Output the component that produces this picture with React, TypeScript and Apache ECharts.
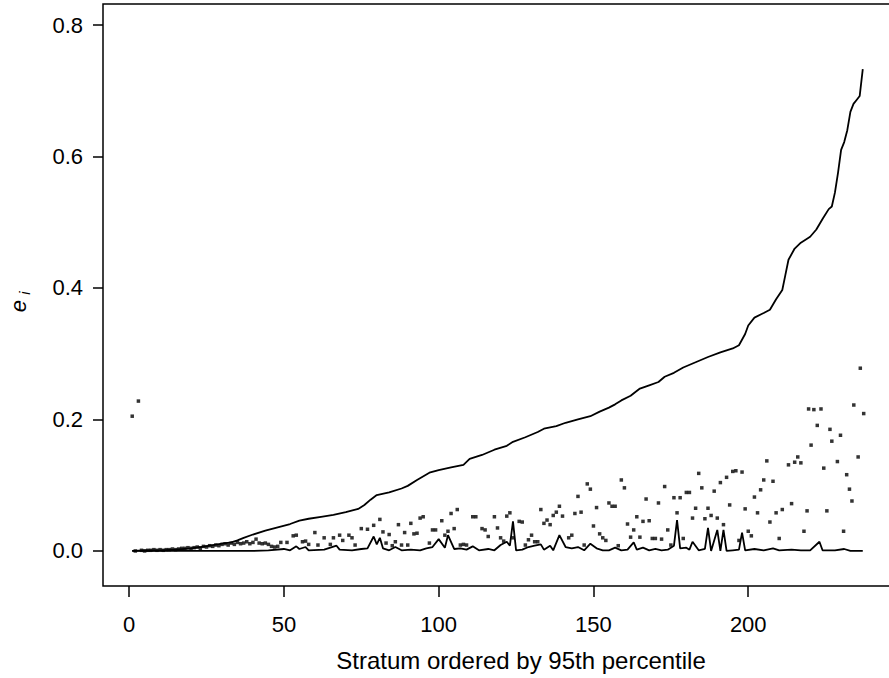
import React, { useEffect, useRef } from "react";
import * as echarts from "echarts";

// Upper curve: [stratum, e_i]
const upperCurve: [number, number][] = [
  [1, 0], [5, 0.001], [10, 0.001], [15, 0.002], [20, 0.004], [23, 0.006], [27, 0.009], [30, 0.011],
  [33, 0.013], [35, 0.016], [37, 0.02], [40, 0.025], [44, 0.031], [48, 0.036], [52, 0.041], [55, 0.046],
  [58, 0.049], [62, 0.052], [66, 0.055], [70, 0.059], [74, 0.064], [76, 0.07], [78, 0.078], [80, 0.085],
  [84, 0.089], [88, 0.095], [90, 0.099], [93, 0.108], [97, 0.119], [100, 0.123], [104, 0.127], [108, 0.131],
  [110, 0.14], [114, 0.146], [118, 0.154], [122, 0.16], [124, 0.166], [128, 0.173], [132, 0.181], [134, 0.186],
  [138, 0.19], [141, 0.195], [145, 0.2], [149, 0.205], [152, 0.212], [155, 0.218], [157, 0.223], [159, 0.229],
  [162, 0.236], [165, 0.247], [168, 0.252], [171, 0.257], [173, 0.265], [176, 0.271], [179, 0.279], [183, 0.287],
  [187, 0.295], [191, 0.302], [195, 0.308], [197, 0.313], [199, 0.33], [200, 0.343], [202, 0.355], [205, 0.362],
  [207, 0.367], [209, 0.383], [211, 0.397], [212, 0.42], [213, 0.443], [215, 0.46], [217, 0.469], [220, 0.478],
  [222, 0.489], [224, 0.505], [226, 0.52], [227, 0.524], [228, 0.545], [229, 0.575], [230, 0.61], [231, 0.622],
  [232, 0.64], [233, 0.668], [234, 0.68], [235, 0.686], [236, 0.692], [237, 0.733],
];

// Lower curve: [stratum, e_i]
const lowerCurve: [number, number][] = [
  [1, 0], [40, 0], [45, 0.001], [50, 0.003], [52, 0.001], [54, 0.007], [55, 0.003], [57, 0.006], [58, 0.001],
  [63, 0.002], [67, 0.008], [68, 0.002], [72, 0.001], [75, 0.003], [77, 0.004], [79, 0.022], [80, 0.01],
  [81, 0.02], [82, 0.004], [84, 0.001], [86, 0.006], [88, 0.001], [91, 0.002], [94, 0.001], [96, 0.004],
  [98, 0.006], [100, 0.018], [102, 0.005], [103, 0.024], [105, 0.003], [107, 0.004], [109, 0.002], [111, 0.007],
  [113, 0.001], [116, 0.003], [118, 0.001], [120, 0.009], [122, 0.014], [123, 0.008], [124, 0.045], [125, 0.001],
  [127, 0.002], [129, 0.006], [131, 0.008], [133, 0.01], [134, 0.002], [136, 0.008], [137, 0.001], [139, 0.024],
  [141, 0.006], [143, 0.004], [145, 0.006], [147, 0.001], [149, 0.011], [151, 0.004], [153, 0.001], [155, 0.001],
  [157, 0.005], [159, 0.001], [161, 0.002], [163, 0.013], [164, 0.002], [166, 0.005], [168, 0.001], [170, 0.003],
  [172, 0.001], [174, 0.002], [176, 0.008], [177, 0.047], [178, 0.004], [180, 0.005], [181, 0.002], [182, 0.014],
  [184, 0.001], [186, 0.003], [187, 0.035], [188, 0], [190, 0.032], [191, 0], [192, 0.032], [193, 0],
  [195, 0.001], [197, 0.002], [198, 0.028], [199, 0.001], [202, 0.003], [205, 0.001], [208, 0.004], [210, 0.001],
  [214, 0.002], [217, 0.001], [220, 0.001], [223, 0.014], [224, 0.001], [228, 0.001], [231, 0.003], [233, 0],
  [237, 0],
];

// Individual stratum points: [stratum, e_i]
const points: [number, number][] = [
  [1, 0.205], [3, 0.228], [2, 0], [4, 0.001], [5, 0], [6, 0.001], [7, 0.001], [8, 0.002], [9, 0.001],
  [10, 0.002], [11, 0.001], [12, 0.002], [13, 0.002], [14, 0.003], [15, 0.002], [16, 0.003], [17, 0.004],
  [18, 0.004], [19, 0.005], [20, 0.004], [21, 0.005], [22, 0.006], [23, 0.004], [24, 0.007], [25, 0.006],
  [26, 0.008], [27, 0.007], [28, 0.009], [29, 0.008], [30, 0.01], [31, 0.011], [32, 0.009], [33, 0.012],
  [34, 0.01], [35, 0.013], [36, 0.011], [37, 0.012], [38, 0.014], [39, 0.011], [40, 0.013], [41, 0.018],
  [42, 0.012], [43, 0.011], [44, 0.012], [45, 0.01], [46, 0.007], [47, 0.006],
  [48, 0.007], [49, 0.013], [51, 0.013], [53, 0.023], [54, 0.024], [56, 0.014], [57, 0.015], [58, 0.01],
  [60, 0.028], [61, 0.009], [63, 0.02], [65, 0.01], [66, 0.02], [68, 0.024], [69, 0.016], [71, 0.024],
  [72, 0.02], [73, 0.009], [75, 0.034], [77, 0.033], [79, 0.039], [81, 0.048], [82, 0.029], [83, 0.012],
  [84, 0.025], [85, 0.008], [86, 0.014], [87, 0.04], [88, 0.009], [89, 0.028], [90, 0.009], [91, 0.042],
  [92, 0.026], [93, 0.027], [94, 0.05], [95, 0.052], [97, 0.012], [98, 0.032], [99, 0.032], [101, 0.046],
  [102, 0.024], [103, 0.03], [104, 0.057], [105, 0.034], [106, 0.063], [107, 0.009], [108, 0.01], [109, 0.009],
  [111, 0.052], [112, 0.052], [114, 0.034], [115, 0.032], [116, 0.022], [118, 0.052], [119, 0.035], [120, 0.02],
  [121, 0.015], [122, 0.053], [123, 0.058], [124, 0.02], [126, 0.045], [127, 0.044], [128, 0.009], [129, 0.017],
  [130, 0.024], [131, 0.014], [132, 0.014], [133, 0.063], [134, 0.042], [135, 0.047], [136, 0.04], [137, 0.054],
  [138, 0.059], [139, 0.068], [140, 0.053], [142, 0.02], [143, 0.024], [144, 0.057], [145, 0.083], [146, 0.059],
  [147, 0.009], [148, 0.102], [149, 0.094], [150, 0.038], [151, 0.066], [152, 0.026], [153, 0.02], [154, 0.016],
  [155, 0.073], [156, 0.068], [157, 0.068], [158, 0.008], [159, 0.108], [160, 0.096], [161, 0.041], [162, 0.021],
  [163, 0.032], [164, 0.052], [165, 0.021], [166, 0.045], [167, 0.079], [168, 0.046], [169, 0.019], [170, 0.019],
  [171, 0.073], [172, 0.018], [173, 0.098], [174, 0.032], [175, 0.009], [176, 0.081], [177, 0.058], [178, 0.081],
  [179, 0.019], [180, 0.089], [181, 0.089], [182, 0.05], [183, 0.065], [184, 0.118], [185, 0.096], [186, 0.049],
  [187, 0.065], [188, 0.054], [189, 0.091], [190, 0.05], [191, 0.104], [192, 0.04], [193, 0.112], [194, 0.07],
  [195, 0.121], [196, 0.122], [197, 0.016], [198, 0.12], [199, 0.064], [200, 0.03], [201, 0.023], [202, 0.082],
  [203, 0.058], [204, 0.093], [205, 0.108], [206, 0.137], [207, 0.044], [208, 0.106], [209, 0.058], [210, 0.019],
  [211, 0.063], [213, 0.131], [214, 0.072], [215, 0.135], [216, 0.143], [217, 0.134], [218, 0.03], [219, 0.061],
  [219.5, 0.216], [220.3, 0.161], [221.2, 0.215], [222.3, 0.191], [223.5, 0.216], [224.4, 0.126], [225.4, 0.061],
  [226.4, 0.185], [227, 0.167], [228.8, 0.136], [229.8, 0.176], [230.8, 0.03], [231.8, 0.116], [232.7, 0.094],
  [233.5, 0.076], [234.1, 0.222], [235.5, 0.143], [236.2, 0.278], [237.3, 0.209],
];

const xTicks = [0, 50, 100, 150, 200];
const yTicks = [0, 0.2, 0.4, 0.6, 0.8];

const FONT = '"Liberation Sans", Arial, Helvetica, sans-serif';
const INK = "#000000";

export default function App() {
  const ref = useRef<HTMLDivElement>(null);
  useEffect(() => {
    if (!ref.current) return;
    const chart = echarts.init(ref.current, undefined, { renderer: "svg" });
    chart.setOption({
      animation: false,
      backgroundColor: "#ffffff",
      grid: {
        left: 103,
        top: 4,
        right: 8,
        bottom: 92,
        show: true,
        borderColor: INK,
        borderWidth: 1.5,
        backgroundColor: "transparent",
      },
      xAxis: {
        type: "value",
        min: -8.44,
        max: 246.44,
        axisLine: { show: false, onZero: false },
        splitLine: { show: false },
        axisTick: {
          show: true,
          inside: false,
          length: 11,
          lineStyle: { color: INK, width: 1.5 },
          customValues: xTicks,
        },
        axisLabel: {
          show: true,
          margin: 27,
          fontSize: 22,
          fontFamily: FONT,
          color: INK,
          customValues: xTicks,
          formatter: (v: number) => String(v),
        },
      },
      yAxis: {
        type: "value",
        min: -0.0533,
        max: 0.832,
        axisLine: { show: false, onZero: false },
        splitLine: { show: false },
        axisTick: {
          show: true,
          inside: false,
          length: 10,
          lineStyle: { color: INK, width: 1.5 },
          customValues: yTicks,
        },
        axisLabel: {
          show: true,
          margin: 20,
          fontSize: 22,
          fontFamily: FONT,
          color: INK,
          customValues: yTicks,
          formatter: (v: number) => v.toFixed(1),
        },
      },
      series: [
        {
          type: "line",
          data: upperCurve,
          showSymbol: false,
          symbol: "none",
          lineStyle: { color: INK, width: 1.8 },
        },
        {
          type: "line",
          data: lowerCurve,
          showSymbol: false,
          symbol: "none",
          lineStyle: { color: INK, width: 1.8 },
        },
        {
          type: "scatter",
          data: points,
          symbol: "rect",
          symbolSize: 3.5,
          itemStyle: { color: INK },
        },
      ],
      graphic: [
        {
          type: "text",
          x: 521,
          y: 660,
          style: {
            text: "Stratum ordered by 95th percentile",
            fontSize: 24,
            fontFamily: FONT,
            fill: INK,
            align: "center",
            verticalAlign: "middle",
          },
        },
        {
          type: "group",
          x: 18,
          y: 300,
          rotation: Math.PI / 2,
          children: [
            {
              type: "text",
              x: -6,
              y: 0,
              style: {
                text: "e",
                fontSize: 22,
                fontStyle: "italic",
                fontFamily: FONT,
                fill: INK,
                align: "center",
                verticalAlign: "middle",
              },
            },
            {
              type: "text",
              x: 7,
              y: 6,
              style: {
                text: "i",
                fontSize: 15,
                fontStyle: "italic",
                fontFamily: FONT,
                fill: INK,
                align: "center",
                verticalAlign: "middle",
              },
            },
          ],
        },
      ],
    });
    return () => chart.dispose();
  }, []);
  return (
    <div
      ref={ref}
      style={{ position: "fixed", left: 0, top: 0, width: 900, height: 678 }}
    />
  );
}
